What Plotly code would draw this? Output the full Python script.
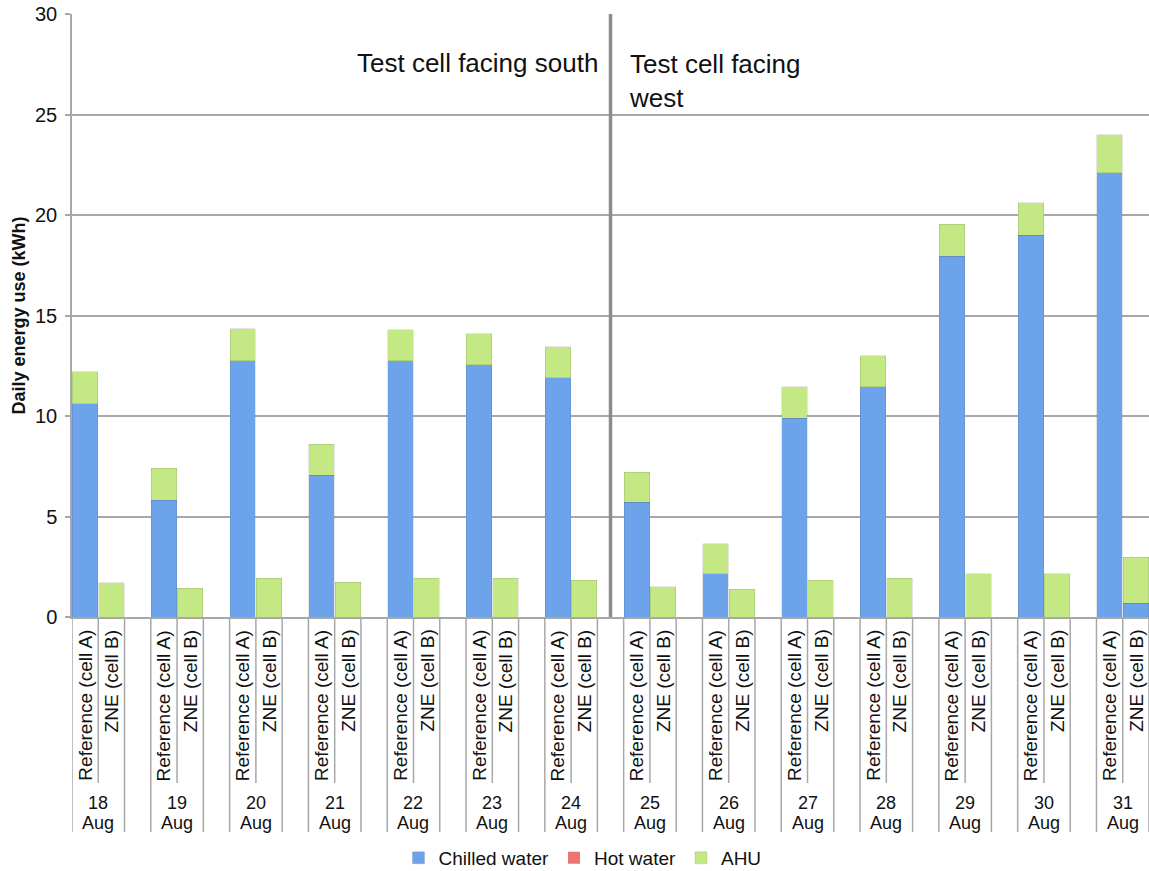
import plotly.graph_objects as go

# ---- data ----
days = ["18", "19", "20", "21", "22", "23", "24", "25", "26", "27", "28", "29", "30", "31"]
month = "Aug"
cells = ["Reference (cell A)", "ZNE (cell B)"]
ref_chilled = [10.6, 5.8, 12.75, 7.05, 12.75, 12.55, 11.9, 5.7, 2.15, 9.9, 11.45, 17.95, 19.0, 22.1]
ref_hot = [0] * 14
ref_ahu = [1.6, 1.6, 1.6, 1.55, 1.55, 1.55, 1.55, 1.5, 1.5, 1.55, 1.55, 1.6, 1.6, 1.9]
zne_chilled = [0, 0, 0, 0, 0, 0, 0, 0, 0, 0, 0, 0, 0, 0.68]
zne_hot = [0] * 14
zne_ahu = [1.7, 1.43, 1.93, 1.74, 1.93, 1.93, 1.83, 1.51, 1.38, 1.83, 1.93, 2.16, 2.16, 2.3]
y_ticks = [0, 5, 10, 15, 20, 25, 30]
south_label = "Test cell facing south"
west_label = "Test cell facing<br>west"
split_after_day = 6  # index of last south-facing day (24 Aug)

# ---- slot positions on a numeric axis: Ref, ZNE, gap ----
n = len(days)
x_ref = [3 * i for i in range(n)]
x_zne = [3 * i + 1 for i in range(n)]
xs = []
chilled, hot, ahu = [], [], []
for i in range(n):
    xs += [x_ref[i], x_zne[i]]
    chilled += [ref_chilled[i], zne_chilled[i]]
    hot += [ref_hot[i], zne_hot[i]]
    ahu += [ref_ahu[i], zne_ahu[i]]

FONT = "Liberation Sans, Arial, Helvetica, sans-serif"
GRID = "#a8a8a8"
TXT = "#111111"

fig = go.Figure()
fig.add_trace(go.Bar(x=xs, y=chilled, name="Chilled water", width=0.97,
                     marker=dict(color="#6da3ea", line=dict(width=0.6, color="rgba(80,80,80,0.25)"))))
fig.add_trace(go.Bar(x=xs, y=hot, name="Hot water", width=0.97,
                     marker=dict(color="#ee7474", line=dict(width=0))))
fig.add_trace(go.Bar(x=xs, y=ahu, name="AHU", width=0.97,
                     marker=dict(color="#c4e883", line=dict(width=0.6, color="rgba(80,80,80,0.25)"))))

# pixel geometry
H = 871
top_px, axis_px = 14, 617
plot_h = axis_px - top_px

def py(p):  # pixel y -> paper y
    return (axis_px - p) / plot_h

shapes = []
annotations = []
for i in range(n):
    for xb, yb in [(3 * i - 0.5, 832), (3 * i + 0.5, 783), (3 * i + 1.5, 832)]:
        shapes.append(dict(type="line", xref="x", yref="paper", x0=xb, x1=xb,
                           y0=0, y1=py(yb), line=dict(color=GRID, width=1.5)))
    for xc, lab in [(x_ref[i], cells[0]), (x_zne[i], cells[1])]:
        annotations.append(dict(text=lab, x=xc, xref="x", y=py(628), yref="paper",
                                textangle=-90, xanchor="center", yanchor="top",
                                showarrow=False, font=dict(size=19, color=TXT, family=FONT)))
    annotations.append(dict(text=days[i], x=3 * i + 0.5, xref="x",
                            y=py(803), yref="paper", xanchor="center", yanchor="middle",
                            showarrow=False, font=dict(size=18, color=TXT, family=FONT)))
    annotations.append(dict(text=month, x=3 * i + 0.5, xref="x",
                            y=py(823), yref="paper", xanchor="center", yanchor="middle",
                            showarrow=False, font=dict(size=18, color=TXT, family=FONT)))

sep_x = 3 * split_after_day + 2
shapes.append(dict(type="line", xref="x", yref="y", x0=sep_x, x1=sep_x, y0=0, y1=30,
                   line=dict(color="#8c8c8c", width=3.5)))
annotations.append(dict(text=south_label, x=sep_x, xref="x", xshift=-11, y=py(63), yref="paper",
                        xanchor="right", yanchor="middle", showarrow=False,
                        font=dict(size=26, color=TXT, family=FONT)))
annotations.append(dict(text=west_label, x=sep_x, xref="x", xshift=16, y=py(81), yref="paper",
                        xanchor="left", yanchor="middle", align="left", showarrow=False,
                        font=dict(size=26, color=TXT, family=FONT)))

fig.update_layout(
    width=1149, height=H,
    margin=dict(l=72, r=0, t=top_px, b=H - axis_px, autoexpand=False),
    barmode="stack",
    plot_bgcolor="white", paper_bgcolor="white",
    font=dict(family=FONT, color=TXT),
    showlegend=True,
    legend=dict(orientation="h", x=0.474, xanchor="center", y=py(858), yanchor="middle",
                font=dict(size=19, color=TXT, family=FONT), itemwidth=30,
                traceorder="normal"),
    shapes=shapes,
    annotations=annotations,
)
fig.update_xaxes(range=[-0.5, 3 * n - 1.5], showticklabels=False, showgrid=False,
                 zeroline=False, showline=True, linecolor=GRID, linewidth=1.5, ticks="")
fig.update_yaxes(range=[0, 30], tickvals=y_ticks, showgrid=True, gridcolor=GRID, gridwidth=1.5,
                 zeroline=False, showline=True, linecolor=GRID, linewidth=1.5,
                 ticks="outside", ticklen=5, tickcolor=GRID, tickwidth=1.5,
                 tickfont=dict(size=20, color=TXT, family=FONT), ticklabelstandoff=4,
                 title=dict(text="<b>Daily energy use (kWh)</b>", standoff=5,
                            font=dict(size=18, color=TXT, family=FONT)),
                 automargin=False)

fig.write_html("out.html", config={"displayModeBar": False},
               post_script="document.body.style.margin='0';document.body.style.overflow='hidden';")
